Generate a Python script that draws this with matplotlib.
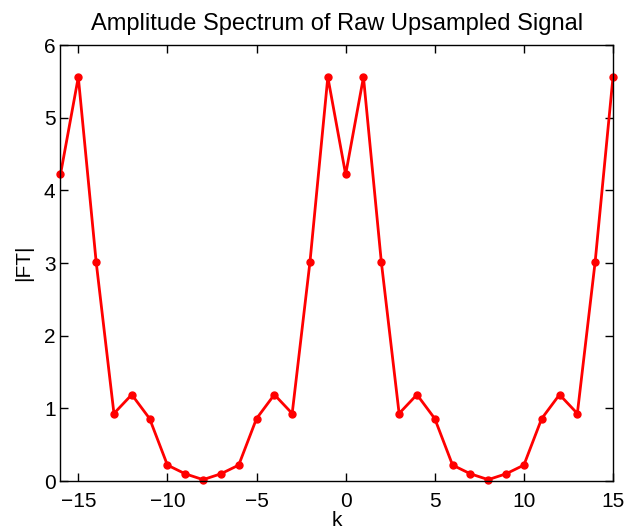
import matplotlib
matplotlib.use("Agg")
import matplotlib.pyplot as plt

k = list(range(-16, 16))
amp = [4.22, 5.56, 3.02, 0.93, 1.19, 0.86, 0.22, 0.10,
       0.02, 0.10, 0.22, 0.86, 1.19, 0.93, 3.02, 5.56,
       4.22, 5.56, 3.02, 0.93, 1.19, 0.86, 0.22, 0.10,
       0.02, 0.10, 0.22, 0.86, 1.19, 0.93, 3.02, 5.56]
xticks = [-15, -10, -5, 0, 5, 10, 15]
yticks = [0, 1, 2, 3, 4, 5, 6]

plt.rcParams['font.family'] = ['Liberation Sans', 'DejaVu Sans']

fig = plt.figure(figsize=(6.3, 5.31), dpi=100)
ax = fig.add_axes([0.096, 0.094, 0.877, 0.821])
ax.plot(k, amp, color='red', linewidth=2, marker='o', markersize=5, clip_on=False)
ax.set_xlim(-16, 15)
ax.set_ylim(0, 6)
ax.set_xticks(xticks)
ax.set_xticklabels([str(t).replace('-', '\u2212') for t in xticks])
ax.set_yticks(yticks)
ax.tick_params(direction='in', top=True, right=True, labelsize=15, length=6, width=1)
ax.tick_params(axis='x', pad=8)
for s in ax.spines.values():
    s.set_linewidth(1)
ax.set_xlabel('k', fontsize=15, labelpad=0)
ax.set_ylabel('|FT|', fontsize=15, labelpad=8)
ax.set_title('Amplitude Spectrum of Raw Upsampled Signal', fontsize=17, pad=11)

fig.savefig('out.png', dpi=100)
